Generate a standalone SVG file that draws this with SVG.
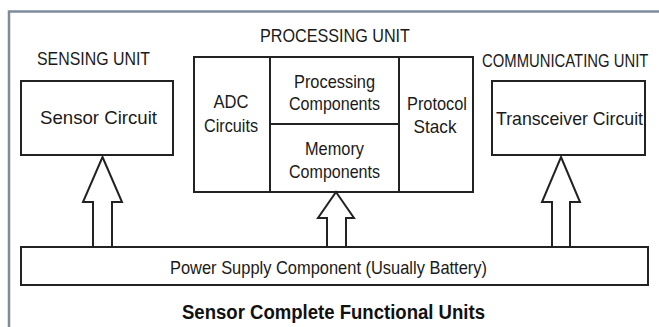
<svg xmlns="http://www.w3.org/2000/svg" width="659" height="327" viewBox="0 0 659 327">
<style>
.box{fill:#fff;stroke:#222;stroke-width:2}
.ln{fill:none;stroke:#222;stroke-width:2}
.t{font-family:"Liberation Sans",Arial,sans-serif;font-size:18.5px;fill:#1a1a1a;text-anchor:middle}
.h{font-family:"Liberation Sans",Arial,sans-serif;font-size:18px;fill:#1a1a1a}
.title{font-family:"Liberation Sans",Arial,sans-serif;font-size:20px;font-weight:bold;fill:#111;text-anchor:middle}
.arrow{fill:#fff;stroke:#222;stroke-width:2;stroke-linejoin:miter}
</style>
<rect x="0" y="0" width="659" height="327" fill="#fff"/>
<path d="M9,327 V11.5 H659" fill="none" stroke="#7f8c99" stroke-width="2.5"/>

<g id="sensing-unit">
<text class="h" x="37" y="65" textLength="113" lengthAdjust="spacingAndGlyphs">SENSING UNIT</text>
<rect class="box" x="21" y="81" width="152" height="74"/>
<text class="t" x="98.5" y="124" font-size="20" textLength="117" lengthAdjust="spacingAndGlyphs">Sensor Circuit</text>
</g>

<g id="processing-unit">
<text class="h" x="260" y="42" textLength="150" lengthAdjust="spacingAndGlyphs">PROCESSING UNIT</text>
<rect class="box" x="194" y="57" width="279" height="135"/>
<path class="ln" d="M270,57 V192 M399,57 V192 M270,124 H399"/>
<g id="adc-circuits">
<text class="t" x="231" y="108" textLength="35" lengthAdjust="spacingAndGlyphs">ADC</text>
<text class="t" x="231" y="132" textLength="54" lengthAdjust="spacingAndGlyphs">Circuits</text>
</g>
<g id="processing-components">
<text class="t" x="334.5" y="88" textLength="81" lengthAdjust="spacingAndGlyphs">Processing</text>
<text class="t" x="334.5" y="110" textLength="91" lengthAdjust="spacingAndGlyphs">Components</text>
</g>
<g id="memory-components">
<text class="t" x="334.5" y="155" textLength="59" lengthAdjust="spacingAndGlyphs">Memory</text>
<text class="t" x="334.5" y="178" textLength="91" lengthAdjust="spacingAndGlyphs">Components</text>
</g>
<g id="protocol-stack">
<text class="t" x="437" y="110" textLength="60" lengthAdjust="spacingAndGlyphs">Protocol</text>
<text class="t" x="435" y="133" textLength="43" lengthAdjust="spacingAndGlyphs">Stack</text>
</g>
</g>

<g id="communicating-unit">
<text class="h" transform="translate(482,67) scale(0.825,1)" x="0" y="0">COMMUNICATING UNIT</text>
<rect class="box" x="492" y="81" width="153" height="74"/>
<text class="t" x="569.5" y="125" font-size="20" textLength="147" lengthAdjust="spacingAndGlyphs">Transceiver Circuit</text>
</g>

<g id="connectors">
<polygon class="arrow" points="102.5,157 122,202 112,202 112,248 93,248 93,202 83,202"/>
<polygon class="arrow" points="336,192 354,218 346,218 346,248 327,248 327,218 318,218"/>
<polygon class="arrow" points="561,157 580,202 570,202 570,248 552,248 552,202 542,202"/>
</g>

<g id="power-supply">
<rect class="box" x="21" y="247" width="627" height="38"/>
<text class="t" x="328.5" y="274" textLength="317" lengthAdjust="spacingAndGlyphs">Power Supply Component (Usually Battery)</text>
</g>

<text class="title" x="333.5" y="319" textLength="303" lengthAdjust="spacingAndGlyphs">Sensor Complete Functional Units</text>
</svg>
